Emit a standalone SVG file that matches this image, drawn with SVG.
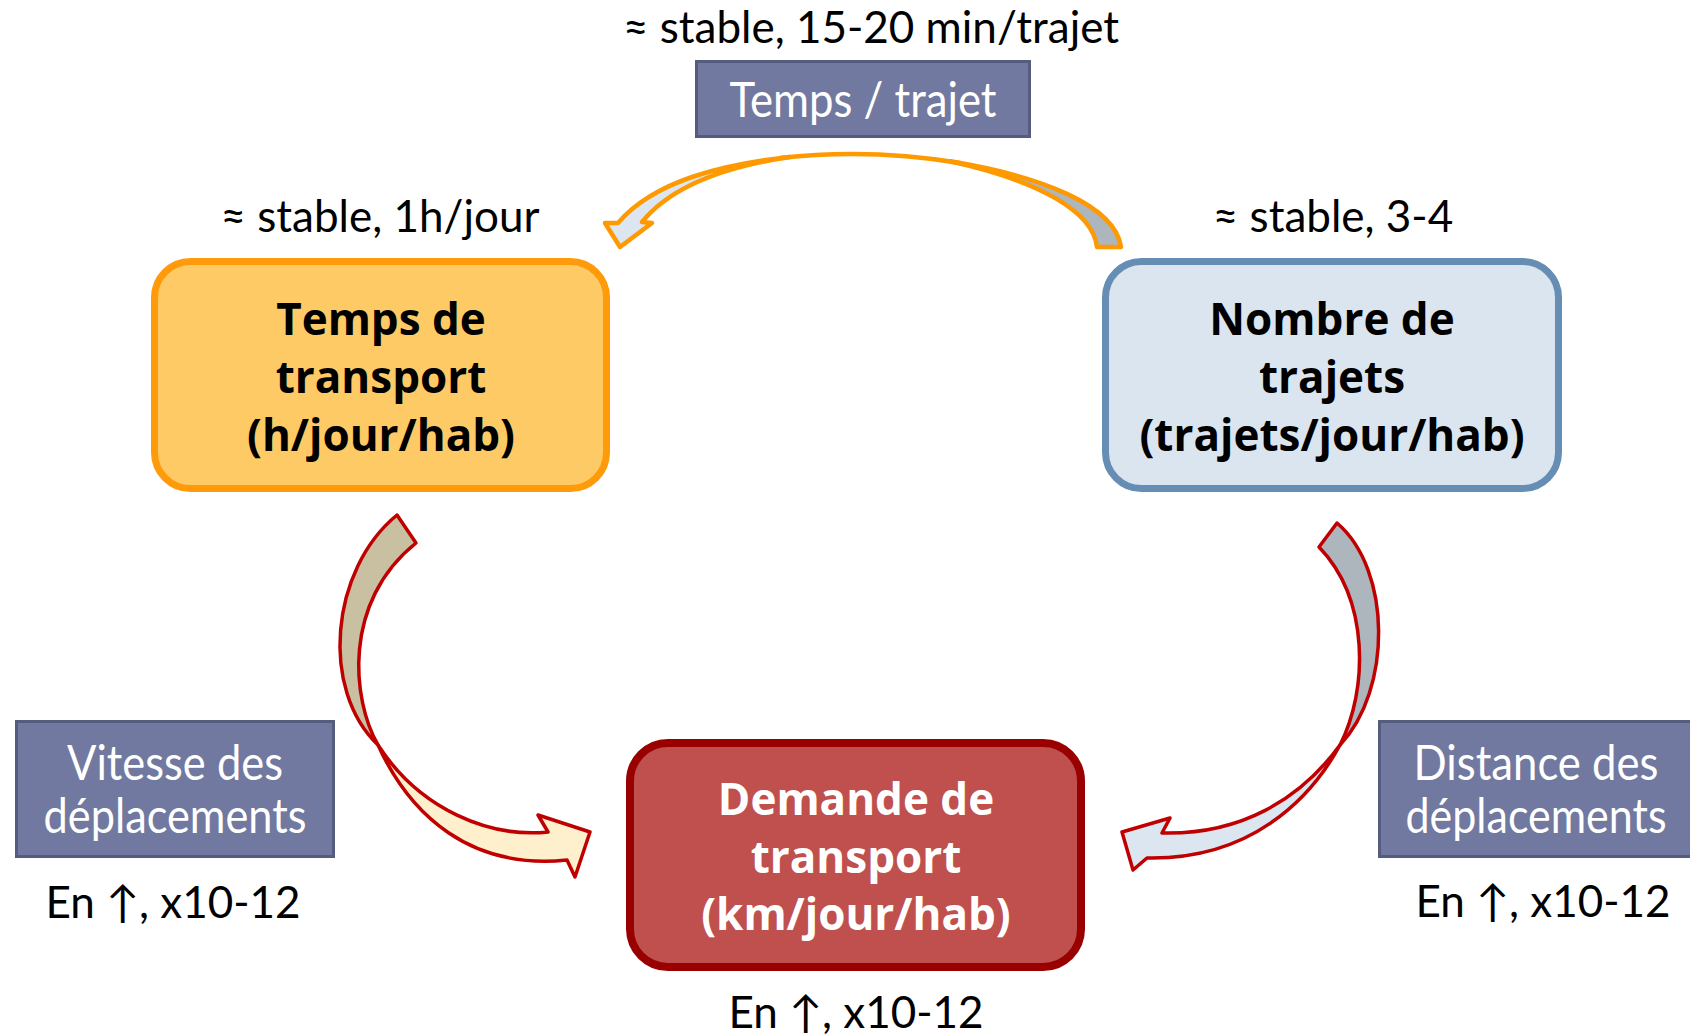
<svg xmlns="http://www.w3.org/2000/svg" width="1690" height="1034" viewBox="0 0 1690 1034">
<style>
.lbl{font-family:Lato,"Open Sans","DejaVu Sans",sans-serif;font-size:44px;fill:#000;text-anchor:middle}
.wt{font-family:Lato,"Open Sans","DejaVu Sans",sans-serif;font-size:49px;fill:#fff;text-anchor:middle}
.bt{font-family:"Open Sans",Lato,"DejaVu Sans",sans-serif;font-weight:700;font-size:44px;text-anchor:middle}
.slate{fill:#7179A0;stroke:#555C7E;stroke-width:3}
.rarr{stroke:#C00000;stroke-width:3.5;stroke-linejoin:round}
.oarr{stroke:#FF9900;stroke-width:4.5;stroke-linejoin:round;stroke-linecap:round}
</style>
<rect width="1690" height="1034" fill="#fff"/>
<g id="connectors">
  <g id="arrow-top">
    <path class="oarr" fill="#ADB5BD" d="M950,161.3 C1040,176 1115,205 1121,247 L1097,247 C1093,212 1040,181 950,161.3 Z"/>
    <path class="oarr" fill="none" d="M780,158 Q870,148 960,163"/>
    <path class="oarr" fill="#DCE6F0" d="M790,157 C725,164 655,180 618,223 L605,223 L620,247 L652,223 L642,222 C668,190 715,168 790,157 Z"/>
  </g>
  <g id="arrow-left">
    <path class="rarr" fill="#C9C0A2" d="M397,515 C330,570 320,690 378,745 C352,700 342,602 416,543 Z"/>
    <path class="rarr" fill="#FEF0CD" d="M378,745 C410,815 470,870 567,860 L575,877 L590,832 L538,815 L548,832 C490,838 420,810 378,745 Z"/>
  </g>
  <g id="arrow-right">
    <path class="rarr" fill="#ADB5BD" d="M1337,523 C1392,570 1392,690 1340,745 C1368,690 1370,600 1319,547 Z"/>
    <path class="rarr" fill="#DCE6F0" d="M1340,745 C1310,800 1250,860 1147,858 L1133,870 L1122,832 L1170,818 L1162,833 C1240,835 1300,800 1340,745 Z"/>
  </g>
</g>
<g id="label-top"><text class="lbl" x="871" y="43">≈ stable, 15-20 min/trajet</text></g>
<g id="node-temps-trajet">
  <rect class="slate" x="696.5" y="61.5" width="333" height="75"/>
  <text class="wt" x="863" y="117" textLength="267" lengthAdjust="spacingAndGlyphs">Temps / trajet</text>
</g>
<g id="label-left"><text class="lbl" x="380" y="232">≈ stable, 1h/jour</text></g>
<g id="label-right"><text class="lbl" x="1333" y="232">≈ stable, 3-4</text></g>
<g id="node-temps-transport">
  <rect x="154.5" y="261.5" width="452" height="227" rx="36" fill="#FDCA66" stroke="#FF9A0A" stroke-width="7"/>
  <text class="bt" fill="#000" x="381" y="335">Temps de</text>
  <text class="bt" fill="#000" x="381" y="393">transport</text>
  <text class="bt" fill="#000" x="381" y="451">(h/jour/hab)</text>
</g>
<g id="node-nombre-trajets">
  <rect x="1105.5" y="261.5" width="453" height="227" rx="36" fill="#DBE5EF" stroke="#668EB5" stroke-width="7"/>
  <text class="bt" fill="#000" x="1332" y="335">Nombre de</text>
  <text class="bt" fill="#000" x="1332" y="393">trajets</text>
  <text class="bt" fill="#000" x="1332" y="451">(trajets/jour/hab)</text>
</g>
<g id="node-vitesse">
  <rect class="slate" x="16.5" y="721.5" width="317" height="135"/>
  <text class="wt" x="175" y="780" textLength="216" lengthAdjust="spacingAndGlyphs">Vitesse des</text>
  <text class="wt" x="175" y="833" textLength="263" lengthAdjust="spacingAndGlyphs">déplacements</text>
</g>
<g id="label-vitesse"><text class="lbl" x="173" y="918">En ↑, x10-12</text></g>
<g id="node-distance">
  <rect x="1379.5" y="721.5" width="310.5" height="135" fill="#7179A0"/>
  <path d="M1690,721.5 H1379.5 V856.5 H1690" fill="none" stroke="#555C7E" stroke-width="3"/>
  <text class="wt" x="1536" y="780" textLength="245" lengthAdjust="spacingAndGlyphs">Distance des</text>
  <text class="wt" x="1536" y="833" textLength="261" lengthAdjust="spacingAndGlyphs">déplacements</text>
</g>
<g id="label-distance"><text class="lbl" x="1543" y="917">En ↑, x10-12</text></g>
<g id="node-demande">
  <rect x="630" y="743" width="451" height="224" rx="38" fill="#C0504D" stroke="#990000" stroke-width="8"/>
  <text class="bt" fill="#fff" x="856" y="815">Demande de</text>
  <text class="bt" fill="#fff" x="856" y="873">transport</text>
  <text class="bt" fill="#fff" x="856" y="930">(km/jour/hab)</text>
</g>
<g id="label-demande"><text class="lbl" x="856" y="1028">En ↑, x10-12</text></g>
</svg>
